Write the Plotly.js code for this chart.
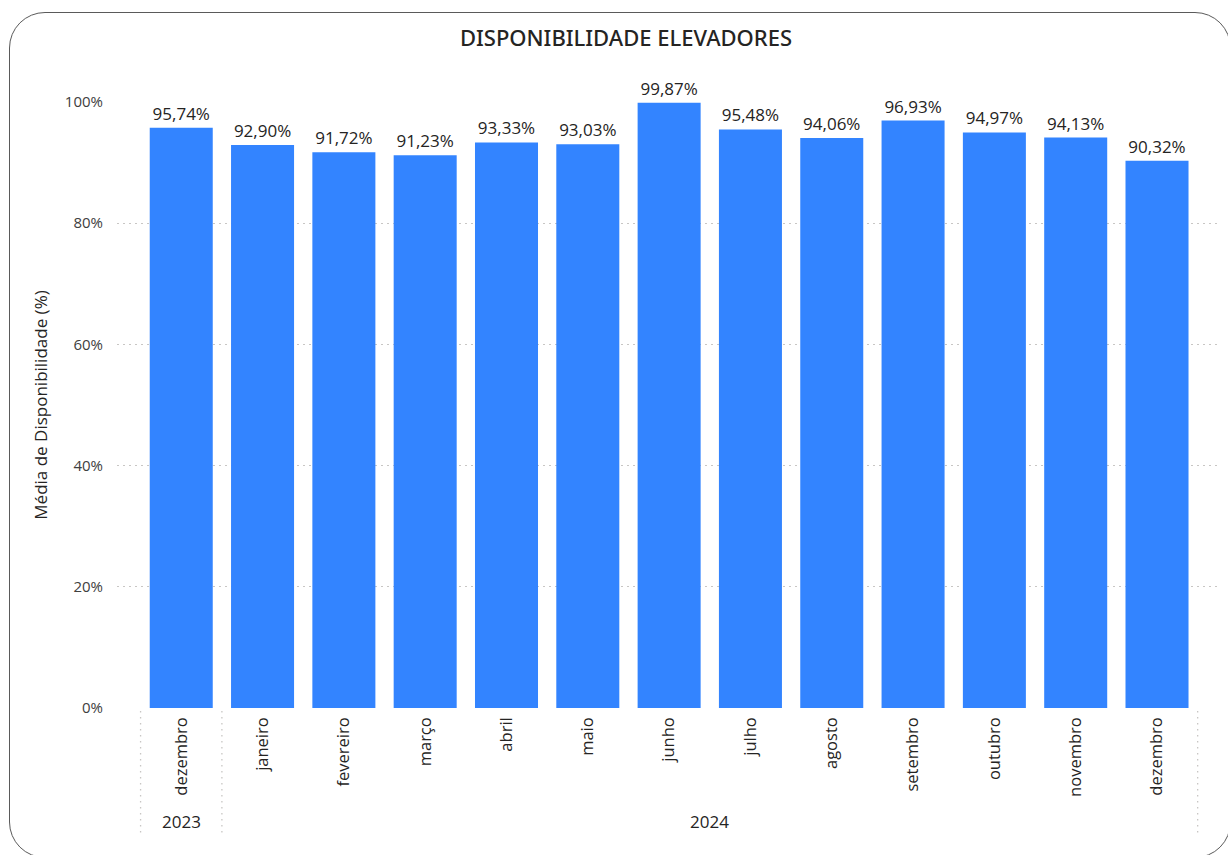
<!DOCTYPE html>
<html>
<head>
<meta charset="utf-8">
<script src="https://cdn.plot.ly/plotly-3.0.1.min.js"></script>
<style>
  html, body { margin: 0; padding: 0; background: #fff; overflow: hidden; }
  #chart { position: absolute; left: 0; top: 0; width: 1228px; height: 855px; }
  #frame { position: absolute; left: 9px; top: 12px; width: 1222px; height: 846px;
           border: 1.5px solid #5a5a5a; border-radius: 36px; pointer-events: none; box-sizing: border-box; }
</style>
</head>
<body>
<div id="chart"></div>
<div id="frame"></div>
<script>
const years = ["2023", "2024", "2024", "2024", "2024", "2024", "2024", "2024", "2024", "2024", "2024", "2024", "2024"];
const months = ["dezembro", "janeiro", "fevereiro", "março", "abril", "maio", "junho", "julho", "agosto", "setembro", "outubro", "novembro", "dezembro"];
const availability = [95.74, 92.90, 91.72, 91.23, 93.33, 93.03, 99.87, 95.48, 94.06, 96.93, 94.97, 94.13, 90.32];
const yTicks = [0, 20, 40, 60, 80, 100];
const yTickLabels = ["0%", "20%", "40%", "60%", "80%", "100%"];

const textColor = "#252423";
const baseFont = "Open Sans, Noto Sans, sans-serif";

// unique category keys (year + month), labelled with the month name only
const keys = months.map((m, i) => years[i] + " " + m);

const trace = {
  type: "bar",
  x: keys,
  y: availability,
  marker: { color: "#3384FF" },
  texttemplate: "%{y:.2f}%",
  textposition: "outside",
  cliponaxis: false,
  textfont: { family: baseFont, size: 17, color: textColor },
  hoverinfo: "skip"
};

// year group labels and dividers derived from the years array
const uniqueYears = [...new Set(years)];
const yearAnnotations = uniqueYears.map(y => {
  const first = years.indexOf(y), last = years.lastIndexOf(y);
  return {
    text: y, xref: "x", yref: "paper",
    x: (first + last) / 2, y: -0.1865,
    xanchor: "center", yanchor: "middle", showarrow: false,
    font: { family: baseFont, size: 17, color: textColor }
  };
});
const boundaries = [-0.5].concat(uniqueYears.map(y => years.lastIndexOf(y) + 0.5));
const dividers = boundaries.map(xv => ({
  type: "line", xref: "x", yref: "paper",
  x0: xv, x1: xv, y0: -0.005, y1: -0.21,
  line: { color: "#C8C6C4", width: 1.3, dash: "1.5px,4.5px" }
}));

const layout = {
  width: 1228, height: 855,
  margin: { l: 117, r: 10, t: 102, b: 147 },
  paper_bgcolor: "rgba(0,0,0,0)",
  plot_bgcolor: "rgba(0,0,0,0)",
  separators: ",.",
  showlegend: false,
  bargap: 0.225,
  font: { family: baseFont, color: textColor },
  title: {
    text: "DISPONIBILIDADE ELEVADORES",
    font: { family: "Noto Sans, sans-serif", size: 22, weight: 500, color: textColor },
    x: 0.5098, xref: "container", xanchor: "center",
    y: 0.9556, yref: "container", yanchor: "middle"
  },
  xaxis: {
    type: "category",
    range: [-0.79, 12.75],
    tickvals: keys,
    ticktext: months,
    tickangle: -90,
    tickfont: { family: baseFont, size: 16.5, color: textColor },
    ticklabelstandoff: 5,
    showgrid: false,
    showline: false,
    zeroline: false,
    ticks: "",
    fixedrange: true
  },
  yaxis: {
    range: [0, 100],
    tickmode: "array",
    tickvals: yTicks,
    ticktext: yTickLabels,
    tickfont: { family: baseFont, size: 15, color: "#404040" },
    ticklabelstandoff: 13,
    showgrid: true,
    gridcolor: "#C8C6C4",
    griddash: "1.5px,4.5px",
    gridwidth: 1.3,
    zeroline: false,
    showline: false,
    fixedrange: true,
    title: {
      text: "Média de Disponibilidade (%)",
      font: { family: baseFont, size: 17, color: textColor },
      standoff: 12
    }
  },
  annotations: yearAnnotations,
  shapes: dividers
};

Plotly.newPlot("chart", [trace], layout, { displayModeBar: false, staticPlot: true });
</script>
</body>
</html>
